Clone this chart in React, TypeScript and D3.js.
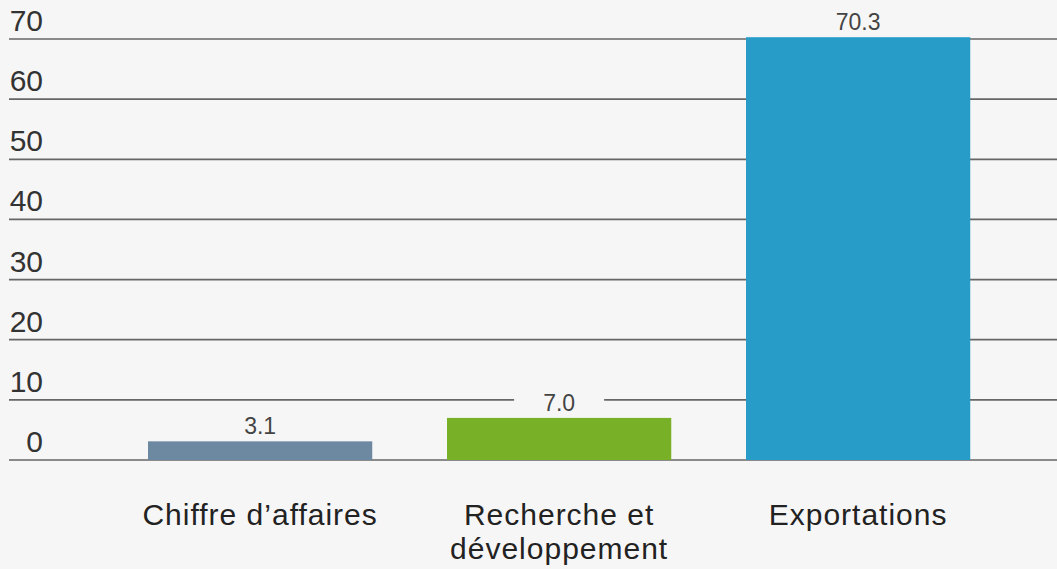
import * as d3 from "d3";

const categories = ["Chiffre d’affaires", "Recherche et|développement", "Exportations"];
const values = [3.1, 7.0, 70.3];
const barColors = ["#6d89a1", "#78b127", "#279cc8"];
const yTicks = [0, 10, 20, 30, 40, 50, 60, 70];

const W = 1057;
const H = 569;
const BG = "#f7f6f6";
const FONT = "'Liberation Sans', Arial, sans-serif";

export default function App() {
  const y = d3.scaleLinear().domain([0, 70]).range([460, 39]);
  const x = d3.scaleBand<string>().domain(categories).range([73.25, 1045]).paddingInner(0.25).paddingOuter(0.25);

  return (
    <div style={{ position: "absolute", left: 0, top: 0, width: W, height: H, background: BG }}>
      <svg width={W} height={H} style={{ display: "block", fontFamily: FONT }}>
        <rect width={W} height={H} fill={BG} />
        {yTicks.map((t) => (
          <g key={t}>
            <line x1={9} x2={W} y1={y(t)} y2={y(t)} stroke="#666" strokeWidth={1.7} />
            <text x={43} y={y(t) - 8} textAnchor="end" fontSize={30} fill="#333">{t}</text>
          </g>
        ))}
        {categories.map((c, i) => {
          const cx = x(c)! + x.bandwidth() / 2;
          const top = y(values[i]);
          const label = values[i].toFixed(1);
          return (
            <g key={c}>
              <rect x={x(c)} y={top} width={x.bandwidth()} height={y(0) - top} fill={barColors[i]} />
              <rect x={cx - 45} y={top - 32} width={90} height={28} fill={BG} />
              <text x={cx} y={top - 7} textAnchor="middle" fontSize={23} fill="#444">{label}</text>
              {c.split("|").map((line, j) => (
                <text key={j} x={cx} y={525 + j * 34} textAnchor="middle" fontSize={30} letterSpacing={1} fill="#222">{line}</text>
              ))}
            </g>
          );
        })}
      </svg>
    </div>
  );
}
